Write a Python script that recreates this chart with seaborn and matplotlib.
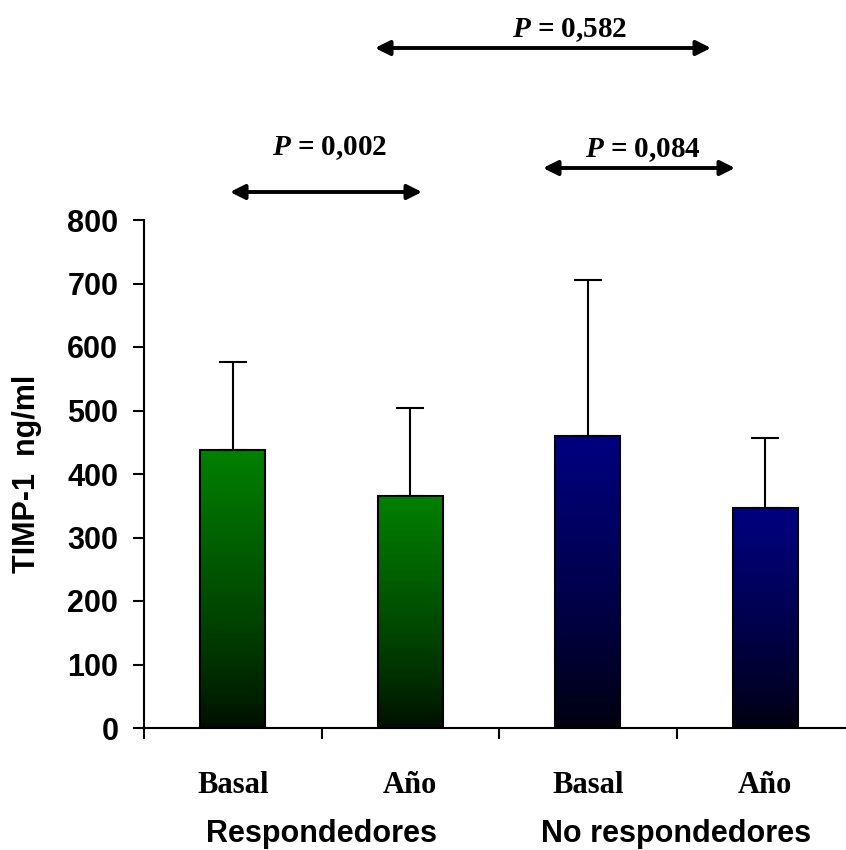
import numpy as np
import pandas as pd
import matplotlib
matplotlib.use("Agg")
import matplotlib.pyplot as plt
import seaborn as sns
from matplotlib.colors import to_rgb

# ---------------- data ----------------
groups = ["Respondedores", "Respondedores", "No respondedores", "No respondedores"]
periods = ["Basal", "Año", "Basal", "Año"]
means = [438, 365, 460, 346]
sd_upper = [138, 139, 245, 111]
group_colors = {"Respondedores": "#008000", "No respondedores": "#000080"}
group_names = ["Respondedores", "No respondedores"]
p_values = ["0,002", "0,084", "0,582"]
y_ticks = [0, 100, 200, 300, 400, 500, 600, 700, 800]

df = pd.DataFrame({
    "cond": [f"{g}|{p}" for g, p in zip(groups, periods)],
    "group": groups,
    "period": periods,
    "value": means,
})

sns.set_style("white")
plt.rcParams["font.family"] = ["Liberation Sans", "DejaVu Sans"]
plt.rcParams["text.color"] = "black"
plt.rcParams["axes.labelcolor"] = "black"
plt.rcParams["xtick.color"] = "black"
plt.rcParams["ytick.color"] = "black"
plt.rcParams["mathtext.fontset"] = "custom"
plt.rcParams["mathtext.it"] = "Liberation Serif:italic:bold"
plt.rcParams["mathtext.rm"] = "Liberation Serif:bold"

W, H = 846, 850
fig = plt.figure(figsize=(W / 100, H / 100), dpi=100)
ax = fig.add_axes([144 / W, 122 / H, 710 / W, 508 / H])

sns.barplot(data=df, x="cond", y="value", hue="group", palette=group_colors,
            dodge=False, width=0.366, saturation=1, errorbar=None,
            edgecolor="black", linewidth=1.5, legend=False, ax=ax)

# gradient fill inside every bar
for patch in list(ax.patches):
    x0, y0 = patch.get_x(), patch.get_y()
    w, h = patch.get_width(), patch.get_height()
    if h <= 0:
        continue
    col = np.array(to_rgb(patch.get_facecolor()))
    t = np.linspace(0, 1, 256)[:, None]
    fac = 0.1 + 0.9 * t ** 0.8
    grad = (fac[:, :, None] * col[None, None, :])
    im = ax.imshow(grad, extent=[x0, x0 + w, y0, y0 + h], origin="lower",
                   aspect="auto", zorder=patch.get_zorder() - 0.01,
                   interpolation="bilinear")
    im.set_clip_path(patch)
    patch.set_facecolor("none")

xs = np.arange(len(means))
ax.errorbar(xs, means, yerr=[np.zeros(len(means)), sd_upper], fmt="none",
            ecolor="black", elinewidth=1.5, capsize=10, capthick=1.5, zorder=1)

ax.set_xlim(-0.5, 3.5)
ax.set_ylim(0, 800)
ax.set_yticks(y_ticks)
ax.set_yticklabels([str(v) for v in y_ticks], fontsize=22, fontweight="bold",
                   family=["Liberation Sans"], color="black")
ax.tick_params(axis="y", direction="out", length=8, width=1.5, pad=10.5,
               left=True, color="black")

ax.set_xticks(xs)
ax.set_xticklabels(periods, fontsize=22, fontweight="bold",
                   family=["Liberation Serif"], color="black")
ax.tick_params(axis="x", which="major", length=0, pad=31)
ax.set_xticks(np.arange(-0.5, 4.0, 1.0), minor=True)
ax.tick_params(axis="x", which="minor", direction="out", length=8, width=1.5,
               bottom=True, color="black")
ax.set_xlabel("")
ax.set_ylabel("")
for s in ["top", "right"]:
    ax.spines[s].set_visible(False)
for s in ["left", "bottom"]:
    ax.spines[s].set_color("black")
    ax.spines[s].set_linewidth(1.5)

# y label
fig.text(27 / W, 1 - 474 / H, "TIMP-1  ng/ml", rotation=90, ha="center",
         va="center", fontsize=22, fontweight="bold", family=["Liberation Sans"],
         color="black")

# group labels
for gx, name in zip([321, 676], group_names):
    fig.text(gx / W, 1 - 842 / H, name, ha="center", va="baseline",
             fontsize=22, fontweight="bold", family=["Liberation Sans"],
             color="black")

# significance arrows (figure pixel positions)
arrows = [(230, 422, 192), (543, 735, 168), (375, 711, 48)]
labels_pos = [(330, 155), (643, 157), (570, 37)]
for (xa, xb, ya), (tx, ty), pv in zip(arrows, labels_pos, p_values):
    ax.annotate("", xy=(xb, H - ya), xytext=(xa, H - ya),
                xycoords="figure pixels", textcoords="figure pixels",
                arrowprops=dict(arrowstyle="<|-|>", color="black", lw=2.8,
                                mutation_scale=22, shrinkA=0, shrinkB=0),
                annotation_clip=False)
    fig.text(tx / W, 1 - ty / H, r"$P$" + f" = {pv}", ha="center",
             va="baseline", fontsize=21, fontweight="bold",
             family=["Liberation Serif"], color="black")

fig.savefig("out.png", dpi=100)
